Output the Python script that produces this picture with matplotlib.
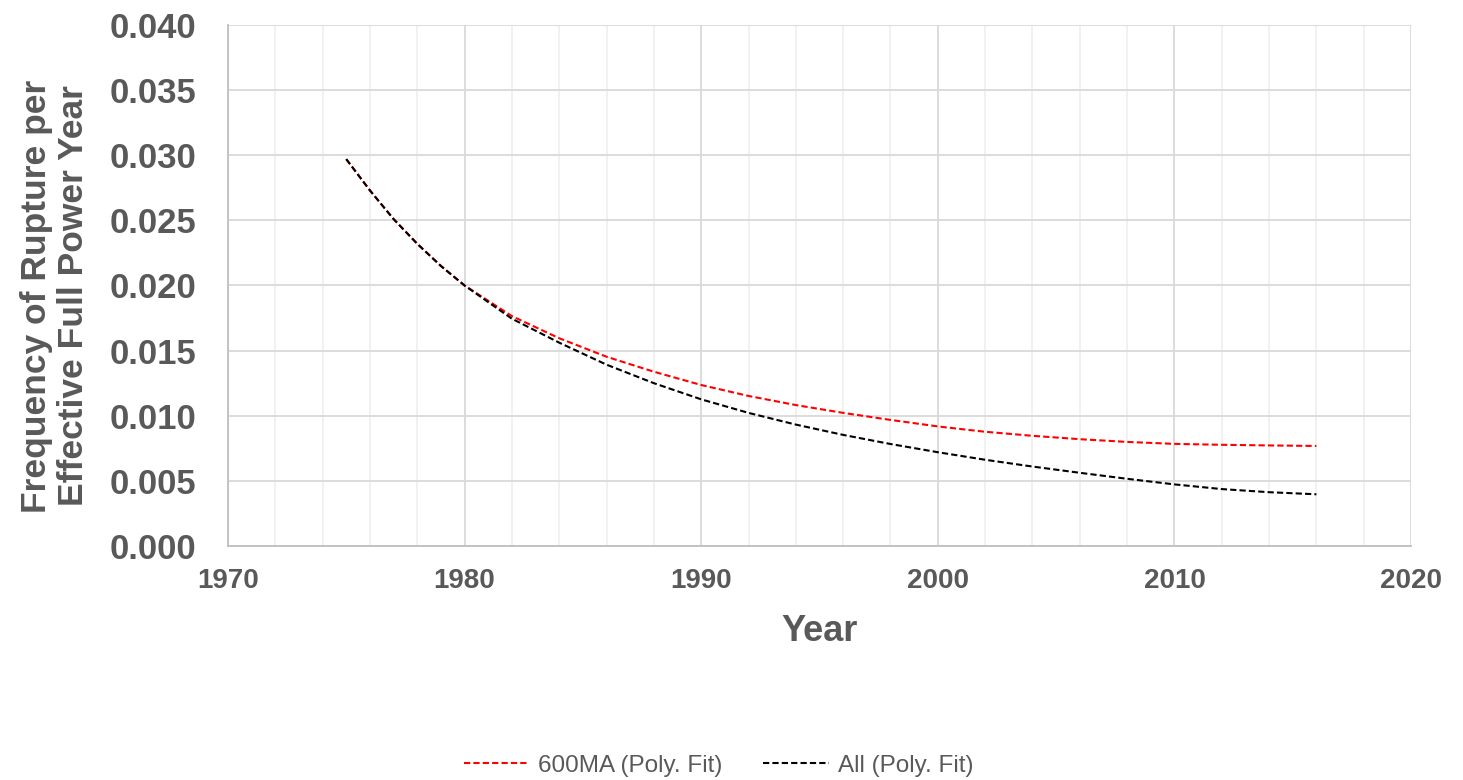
import matplotlib
matplotlib.use("Agg")
import matplotlib.pyplot as plt
from matplotlib.ticker import MultipleLocator, FormatStrFormatter

years = [1975, 1976, 1977, 1978, 1979, 1980, 1982, 1984, 1986, 1988, 1990,
         1992, 1994, 1996, 1998, 2000, 2002, 2004, 2006, 2008, 2010, 2012,
         2014, 2016]
fit_600ma = [0.0297, 0.0273, 0.0251, 0.0232, 0.0215, 0.0200, 0.01765, 0.01595,
             0.01453, 0.01338, 0.01236, 0.01152, 0.01082, 0.01022, 0.00968,
             0.00918, 0.00877, 0.00846, 0.00820, 0.00799, 0.00784, 0.00777,
             0.00772, 0.00768]
fit_all = [0.0297, 0.0273, 0.0251, 0.0232, 0.0215, 0.0200, 0.01745, 0.01561,
           0.01392, 0.01250, 0.01126, 0.01022, 0.00932, 0.00853, 0.00783,
           0.00720, 0.00662, 0.00610, 0.00562, 0.00516, 0.00473, 0.00437,
           0.00413, 0.00397]

plt.rcParams['font.family'] = ['Liberation Sans', 'DejaVu Sans']

fig = plt.figure(figsize=(14.63, 7.8), dpi=100)
ax = fig.add_axes([0.1558, 0.30, 0.8087, 0.668])

dash = (3.0, 1.5)
ax.plot(years, fit_600ma, color='#ff0000', lw=1.5, dashes=dash,
        label='600MA (Poly. Fit)', zorder=3)
ax.plot(years, fit_all, color='#000000', lw=1.5, dashes=dash,
        label='All (Poly. Fit)', zorder=3)

ax.set_xlim(1970, 2020)
ax.set_ylim(0, 0.040)
ax.xaxis.set_major_locator(MultipleLocator(10))
ax.xaxis.set_minor_locator(MultipleLocator(2))
ax.yaxis.set_major_locator(MultipleLocator(0.005))
ax.yaxis.set_major_formatter(FormatStrFormatter('%.3f'))

ax.grid(True, which='major', axis='both', color='#d9d9d9', lw=1.3, zorder=0)
ax.grid(True, which='minor', axis='x', color='#f0f0f0', lw=1.3, zorder=0)
ax.set_axisbelow(True)

for s in ['top', 'right']:
    ax.spines[s].set_visible(False)
for s in ['left', 'bottom']:
    ax.spines[s].set_color('#bfbfbf')
    ax.spines[s].set_linewidth(1.3)

ax.tick_params(axis='both', which='both', length=0)
ax.tick_params(axis='x', which='major', pad=16)
ax.tick_params(axis='y', which='major', pad=23)
for lbl in ax.get_xticklabels():
    lbl.set_fontsize(20)
    lbl.set_fontweight('bold')
    lbl.set_color('#595959')
for lbl in ax.get_yticklabels():
    lbl.set_fontsize(25)
    lbl.set_fontweight('bold')
    lbl.set_color('#595959')

ax.set_xlabel('Year', fontsize=26, fontweight='bold', color='#595959', labelpad=14)
ax.set_ylabel('Frequency of Rupture per\nEffective Full Power Year', fontsize=25.5,
              fontweight='bold', color='#595959', linespacing=1.12)
ax.yaxis.set_label_coords(-0.117, 0.48)

leg = fig.legend(loc='center', bbox_to_anchor=(0.491, 0.018), ncol=2, frameon=False,
                 fontsize=17.5, handlelength=2.7, columnspacing=1.7, handletextpad=0.35)
for t in leg.get_texts():
    t.set_color('#595959')

fig.savefig('out.png', dpi=100)
